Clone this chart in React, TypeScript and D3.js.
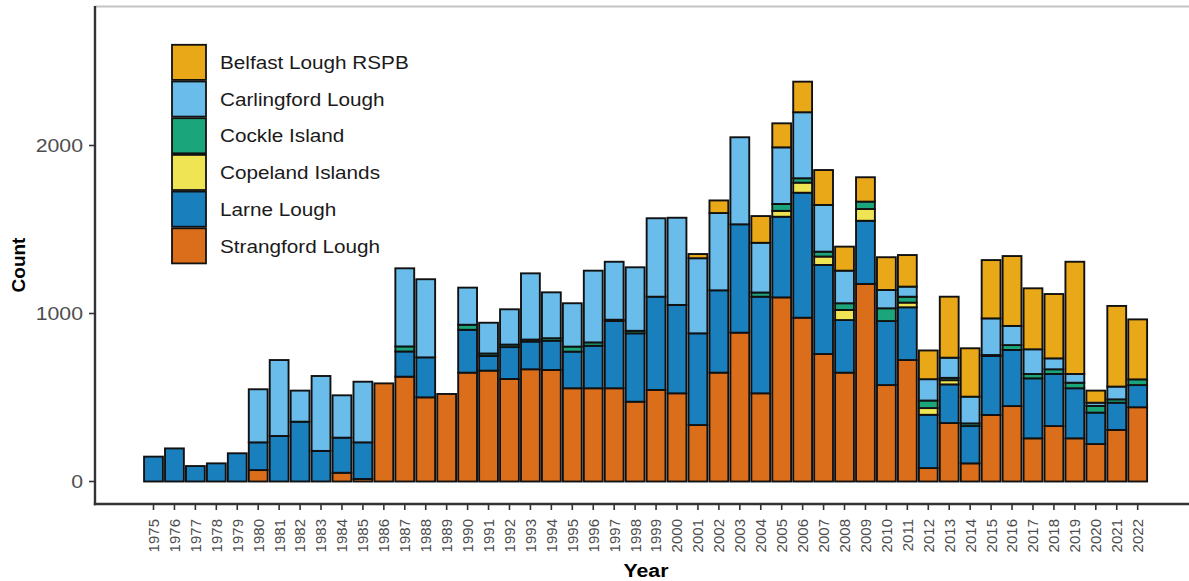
import React from "react";
import * as d3 from "d3";

// Colony counts per year, by site
const years: number[] = d3.range(1975, 2023);

const strangford = [0, 0, 0, 0, 0, 68, 0, 0, 0, 52, 15, 584, 624, 501, 521, 648, 660, 610, 668, 664, 555, 555, 555, 475, 545, 525, 336, 648, 886, 525, 1096, 975, 759, 648, 1176, 574, 723, 80, 348, 108, 396, 449, 257, 330, 257, 223, 307, 442];
const larne = [148, 197, 92, 108, 168, 165, 271, 356, 182, 209, 218, 0, 150, 238, 0, 255, 87, 190, 165, 174, 218, 253, 400, 407, 555, 526, 546, 490, 645, 575, 480, 744, 530, 313, 376, 381, 314, 317, 230, 222, 351, 334, 357, 310, 298, 187, 162, 132];
const copeland = [0, 0, 0, 0, 0, 0, 0, 0, 0, 0, 0, 0, 0, 0, 0, 0, 0, 0, 0, 0, 0, 0, 0, 0, 0, 0, 0, 0, 0, 0, 35, 60, 50, 60, 70, 0, 28, 40, 25, 0, 0, 0, 0, 0, 0, 0, 0, 0];
const cockle = [0, 0, 0, 0, 0, 0, 0, 0, 0, 0, 0, 0, 30, 0, 0, 30, 15, 15, 12, 15, 30, 20, 8, 15, 0, 0, 0, 0, 0, 25, 41, 26, 29, 40, 44, 76, 35, 45, 14, 16, 6, 29, 26, 28, 33, 40, 20, 34];
const carlingford = [0, 0, 0, 0, 0, 316, 452, 185, 446, 252, 361, 0, 465, 465, 0, 221, 183, 210, 394, 273, 258, 427, 345, 378, 467, 519, 447, 460, 518, 296, 337, 393, 278, 194, 0, 109, 60, 127, 120, 159, 218, 114, 147, 65, 52, 19, 76, 0];
const belfast = [0, 0, 0, 0, 0, 0, 0, 0, 0, 0, 0, 0, 0, 0, 0, 0, 0, 0, 0, 0, 0, 0, 0, 0, 0, 0, 25, 75, 0, 159, 143, 182, 208, 143, 145, 195, 188, 171, 363, 288, 347, 416, 363, 383, 668, 72, 480, 357];

// Stack order, bottom to top
const siteNames = ["Strangford Lough", "Larne Lough", "Copeland Islands", "Cockle Island", "Carlingford Lough", "Belfast Lough RSPB"];
const siteValues = [strangford, larne, copeland, cockle, carlingford, belfast];
const siteColors = ["#DA6E1B", "#1A7FBD", "#EFE453", "#1BA57B", "#6ABCEA", "#E8A818"];

const legendNames = ["Belfast Lough RSPB", "Carlingford Lough", "Cockle Island", "Copeland Islands", "Larne Lough", "Strangford Lough"];

const yTicks = [0, 1000, 2000];

const W = 1189;
const H = 581;
const FONT = "'Liberation Sans', Arial, Helvetica, sans-serif";
const SX = 1.12; // horizontal text stretch

export default function App() {
  const panelLeft = 95;
  const panelTop = 7;
  const panelBottom = 504;

  const x = d3
    .scaleBand<number>()
    .domain(years)
    .range([143.03, 1148.15])
    .paddingInner(0.1)
    .paddingOuter(0.05);

  const y = d3.scaleLinear().domain([0, 1000]).range([481.5, 313.5]);

  const rows = years.map((yr, i) => {
    const r: Record<string, number> = { year: yr };
    siteNames.forEach((s, k) => (r[s] = siteValues[k][i]));
    return r;
  });
  const stacked = d3.stack<Record<string, number>>().keys(siteNames)(rows);

  const colorOf = d3.scaleOrdinal<string, string>().domain(siteNames).range(siteColors);

  const legendX = 172;
  const legendY0 = 44;
  const keyH = 36.7;

  return (
    <svg width={W} height={H} style={{ position: "absolute", left: 0, top: 0, background: "#fff" }} fontFamily={FONT}>
      {/* top panel edge */}
      <line x1={panelLeft} x2={W} y1={panelTop - 0.5} y2={panelTop - 0.5} stroke="#c4c4c4" strokeWidth={2} />

      {/* bars */}
      {stacked.map((layer) => (
        <g key={layer.key} fill={colorOf(layer.key)}>
          {layer.map((d, i) =>
            d[1] - d[0] > 0 ? (
              <rect
                key={i}
                x={x(years[i])}
                width={x.bandwidth()}
                y={y(d[1])}
                height={y(d[0]) - y(d[1])}
                stroke="#111"
                strokeWidth={1.9}
              />
            ) : null
          )}
        </g>
      ))}

      {/* y axis */}
      <line x1={panelLeft} x2={panelLeft} y1={panelTop - 1} y2={panelBottom + 1.2} stroke="#333" strokeWidth={2.4} />
      {yTicks.map((t) => (
        <g key={t}>
          <line x1={panelLeft - 6} x2={panelLeft} y1={y(t)} y2={y(t)} stroke="#333" strokeWidth={1.6} />
          <text
            transform={`translate(${panelLeft - 12},${y(t)}) scale(${SX},1)`}
            dy="0.36em"
            textAnchor="end"
            fontSize={19}
            fill="#4d4d4d"
          >
            {t}
          </text>
        </g>
      ))}

      {/* x axis */}
      <line x1={panelLeft - 1.2} x2={W} y1={panelBottom} y2={panelBottom} stroke="#333" strokeWidth={2.4} />
      {years.map((yr) => {
        const cx = (x(yr) as number) + x.bandwidth() / 2;
        return (
          <g key={yr}>
            <line x1={cx} x2={cx} y1={panelBottom} y2={panelBottom + 6} stroke="#333" strokeWidth={1.6} />
            <text
              transform={`translate(${cx},${panelBottom + 15}) rotate(-90)`}
              textAnchor="end"
              dy="0.36em"
              fontSize={15}
              fill="#4d4d4d"
            >
              {yr}
            </text>
          </g>
        );
      })}

      {/* axis titles */}
      <text transform={`translate(646,577) scale(${SX},1)`} textAnchor="middle" fontSize={19} fontWeight="bold" fill="#000">
        Year
      </text>
      <text transform="translate(25,265) rotate(-90)" textAnchor="middle" fontSize={19} fontWeight="bold" fill="#000">
        Count
      </text>

      {/* legend */}
      {legendNames.map((name, i) => {
        const ky = legendY0 + i * keyH;
        return (
          <g key={name}>
            <rect x={legendX} y={ky + 0.8} width={34} height={keyH - 1.6} fill={colorOf(name)} stroke="#111" strokeWidth={1.8} />
            <text
              transform={`translate(220,${ky + keyH / 2}) scale(${SX},1)`}
              dy="0.36em"
              fontSize={18.5}
              fill="#1a1a1a"
            >
              {name}
            </text>
          </g>
        );
      })}
    </svg>
  );
}
